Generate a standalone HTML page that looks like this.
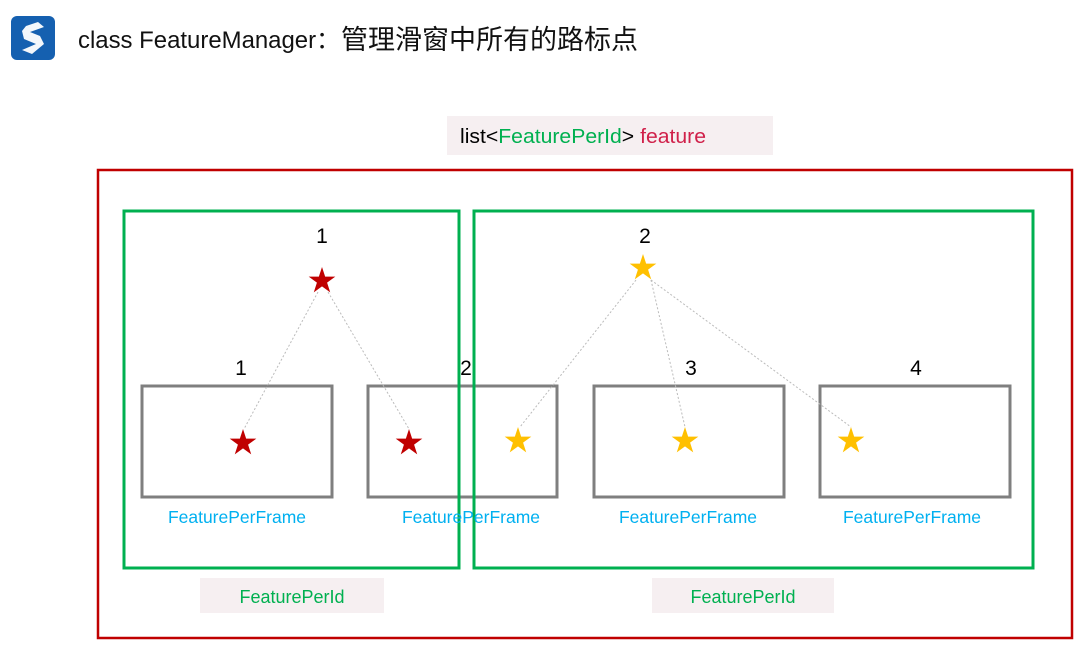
<!DOCTYPE html>
<html><head><meta charset="utf-8"><style>
html,body{margin:0;padding:0;background:#fff;}
svg{display:block;}
text{font-family:"Liberation Sans","Noto Sans CJK SC",sans-serif;}
</style></head><body>
<svg width="1087" height="650" viewBox="0 0 1087 650" xmlns="http://www.w3.org/2000/svg">
<defs>
<polygon id="st" points="0,-1 0.2245,-0.309 0.951,-0.309 0.363,0.118 0.588,0.809 0,0.382 -0.588,0.809 -0.363,0.118 -0.951,-0.309 -0.2245,-0.309"/>
</defs>
<rect x="11" y="16" width="44" height="44" rx="6" fill="#1560b0"/>
<path d="M26 26 L38 22 L44 27 L30 32 L40 36 L44 44 L32 54 L22 50 L36 44 L24 39 L22 31 Z" fill="#fff" opacity="0.95"/>
<text x="78" y="48" font-size="24" fill="#111" textLength="262" lengthAdjust="spacingAndGlyphs">class FeatureManager：</text>
<text x="341" y="49" font-size="27" fill="#111">管理滑窗中所有的路标点</text>
<rect x="447" y="116" width="326" height="39" fill="#f6eff1"/>
<text x="460" y="143" font-size="20" fill="#000" textLength="246" lengthAdjust="spacingAndGlyphs">list&lt;<tspan fill="#00b050">FeaturePerId</tspan>&gt; <tspan fill="#d0204a">feature</tspan></text>
<rect x="98" y="170" width="974" height="468" fill="none" stroke="#c00000" stroke-width="2.5"/>
<g fill="none" stroke="#7f7f7f" stroke-width="3">
<rect x="142" y="386" width="190" height="111"/>
<rect x="368" y="386" width="189" height="111"/>
<rect x="594" y="386" width="190" height="111"/>
<rect x="820" y="386" width="190" height="111"/>
</g>
<g fill="none" stroke="#00b050" stroke-width="3">
<rect x="124" y="211" width="335" height="357"/>
<rect x="474" y="211" width="559" height="357"/>
</g>
<g stroke="#bbb" stroke-width="1" stroke-dasharray="2,2" fill="none">
<line x1="318" y1="292" x2="244" y2="429"/>
<line x1="328" y1="292" x2="409" y2="429"/>
<line x1="636" y1="280" x2="520" y2="427"/>
<line x1="651" y1="280" x2="685" y2="427"/>
<line x1="651" y1="280" x2="851" y2="427"/>
</g>
<g fill="#c00000">
<use href="#st" transform="translate(322,281) scale(14)"/>
<use href="#st" transform="translate(243,443) scale(14)"/>
<use href="#st" transform="translate(409,443) scale(14)"/>
</g>
<g fill="#ffc000">
<use href="#st" transform="translate(643,268) scale(14)"/>
<use href="#st" transform="translate(518,441) scale(14)"/>
<use href="#st" transform="translate(685,441) scale(14)"/>
<use href="#st" transform="translate(851,441) scale(14)"/>
</g>
<g font-size="21" fill="#000" text-anchor="middle">
<text x="322" y="243">1</text>
<text x="645" y="243">2</text>
<text x="241" y="375">1</text>
<text x="466" y="375">2</text>
<text x="691" y="375">3</text>
<text x="916" y="375">4</text>
</g>
<g font-size="17.5" fill="#00b0f0" text-anchor="middle">
<text x="237" y="523">FeaturePerFrame</text>
<text x="471" y="523">FeaturePerFrame</text>
<text x="688" y="523">FeaturePerFrame</text>
<text x="912" y="523">FeaturePerFrame</text>
</g>
<rect x="200" y="578" width="184" height="35" fill="#f6eff1"/>
<rect x="652" y="578" width="182" height="35" fill="#f6eff1"/>
<g font-size="18" fill="#00b050" text-anchor="middle">
<text x="292" y="603">FeaturePerId</text>
<text x="743" y="603">FeaturePerId</text>
</g>
</svg>
</body></html>
